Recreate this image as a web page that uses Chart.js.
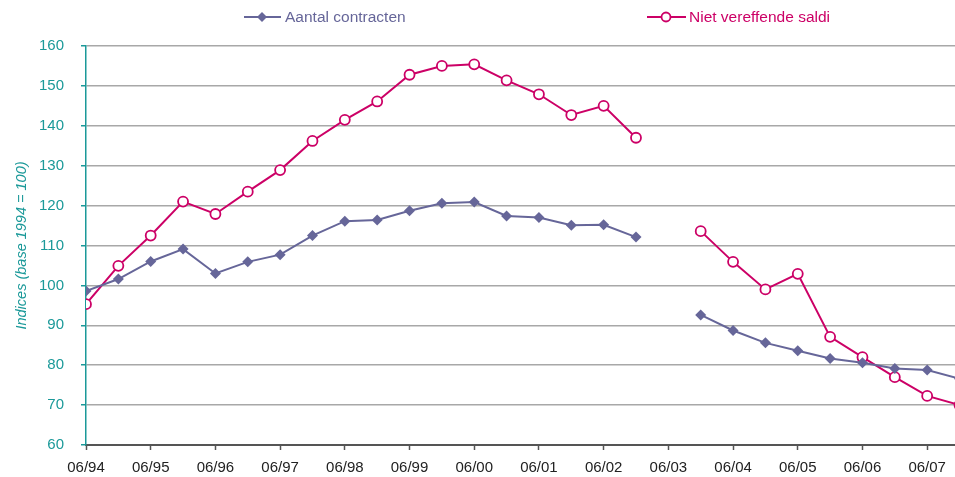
<!DOCTYPE html>
<html>
<head>
<meta charset="utf-8">
<script src="https://cdn.jsdelivr.net/npm/chart.js@4/dist/chart.umd.min.js"></script>
<style>
    html, body { margin: 0; padding: 0; background: #fff; overflow: hidden; }
    canvas { display: block; }
</style>
</head>
<body>
<canvas id="chart" width="955" height="477"></canvas>
<script>
// half-year periods, 06/94 .. 12/07
const periods = ['06/94', '12/94', '06/95', '12/95', '06/96', '12/96', '06/97', '12/97',
    '06/98', '12/98', '06/99', '12/99', '06/00', '12/00', '06/01', '12/01',
    '06/02', '12/02', '06/03', '12/03', '06/04', '12/04', '06/05', '12/05',
    '06/06', '12/06', '06/07', '12/07'];

const aantalContracten = [98.6, 101.6, 106.0, 109.1, 103.0, 105.9, 107.7, 112.5,
    116.1, 116.4, 118.7, 120.6, 120.9, 117.4, 117.0, 115.1,
    115.2, 112.1, null, 92.6, 88.7, 85.6, 83.6, 81.7,
    80.6, 79.2, 78.8, 76.6];

const nietVereffendeSaldi = [95.3, 104.9, 112.5, 121.0, 117.9, 123.5, 128.9, 136.2,
    141.5, 146.1, 152.8, 155.0, 155.4, 151.4, 147.9, 142.7,
    145.0, 137.0, null, 113.6, 105.9, 99.0, 102.9, 87.1,
    82.0, 77.0, 72.3, 70.0];

const yTicks = [60, 70, 80, 90, 100, 110, 120, 130, 140, 150, 160];

const purple = '#666699';
const pink = '#cc0066';
const teal = '#1b9999';
const fontFamily = '"Liberation Sans", Arial, sans-serif';

function toPoints(values) {
    return values.map(function(v, i) { return { x: i, y: v }; });
}

const legendPlugin = {
    id: 'topLegend',
    afterDraw: function(chart) {
        const ctx = chart.ctx;
        ctx.save();
        ctx.font = '15.5px ' + fontFamily;
        ctx.textBaseline = 'middle';
        const y = 17;

        // Aantal contracten
        ctx.strokeStyle = purple;
        ctx.lineWidth = 2;
        ctx.beginPath(); ctx.moveTo(244, y); ctx.lineTo(281, y); ctx.stroke();
        ctx.fillStyle = purple;
        ctx.beginPath();
        ctx.moveTo(262, y - 5); ctx.lineTo(267, y); ctx.lineTo(262, y + 5); ctx.lineTo(257, y);
        ctx.closePath(); ctx.fill();
        ctx.fillText('Aantal contracten', 285, y + 1);

        // Niet vereffende saldi
        ctx.strokeStyle = pink;
        ctx.beginPath(); ctx.moveTo(647, y); ctx.lineTo(686, y); ctx.stroke();
        ctx.fillStyle = '#fff';
        ctx.beginPath(); ctx.arc(666, y, 4.5, 0, Math.PI * 2); ctx.fill();
        ctx.lineWidth = 1.8;
        ctx.stroke();
        ctx.fillStyle = pink;
        ctx.fillText('Niet vereffende saldi', 689, y + 1);
        ctx.restore();
    }
};

new Chart(document.getElementById('chart').getContext('2d'), {
    type: 'line',
    data: {
        datasets: [{
            label: 'Aantal contracten',
            data: toPoints(aantalContracten),
            borderColor: purple,
            backgroundColor: purple,
            borderWidth: 2,
            pointStyle: 'rectRot',
            pointRadius: 5.5,
            pointBorderWidth: 0,
            spanGaps: false,
            tension: 0
        }, {
            label: 'Niet vereffende saldi',
            data: toPoints(nietVereffendeSaldi),
            borderColor: pink,
            backgroundColor: '#fff',
            borderWidth: 2,
            pointStyle: 'circle',
            pointRadius: 5,
            pointBorderWidth: 1.8,
            spanGaps: false,
            tension: 0
        }]
    },
    options: {
        responsive: false,
        animation: false,
        layout: { autoPadding: false, padding: { top: 46, right: 0, left: 0, bottom: 0 } },
        plugins: {
            legend: { display: false },
            tooltip: { enabled: false }
        },
        scales: {
            x: {
                type: 'linear',
                min: 0,
                max: 26.86,
                afterBuildTicks: function(scale) {
                    scale.ticks = periods.map(function(p, i) { return { value: i }; })
                        .filter(function(t) { return t.value % 2 === 0; });
                },
                afterFit: function(scale) {
                    scale.height = 32;
                    scale.paddingLeft = 0;
                    scale.paddingRight = 0;
                },
                ticks: {
                    autoSkip: false,
                    maxRotation: 0,
                    padding: 9,
                    color: '#222',
                    font: { family: fontFamily, size: 15 },
                    callback: function(value) { return periods[value]; }
                },
                grid: {
                    drawOnChartArea: false,
                    drawTicks: true,
                    tickLength: 5,
                    tickColor: '#555',
                    tickWidth: 1.5
                },
                border: { color: '#555', width: 2 }
            },
            y: {
                min: 60,
                max: 160,
                afterBuildTicks: function(scale) {
                    scale.ticks = yTicks.map(function(v) { return { value: v }; });
                },
                afterFit: function(scale) {
                    scale.width = 86;
                    scale.paddingTop = 0;
                    scale.paddingBottom = 0;
                },
                ticks: {
                    padding: 17,
                    color: teal,
                    font: { family: fontFamily, size: 15 }
                },
                grid: {
                    color: '#a8a8a8',
                    lineWidth: 1.5,
                    tickLength: 5,
                    tickColor: teal
                },
                border: { color: teal, width: 1.5 },
                title: {
                    display: true,
                    text: 'Indices (base 1994 = 100)',
                    color: teal,
                    padding: { top: 13, bottom: 0 },
                    font: { family: fontFamily, size: 14.5, style: 'italic' }
                }
            }
        }
    },
    plugins: [legendPlugin]
});
</script>
</body>
</html>
